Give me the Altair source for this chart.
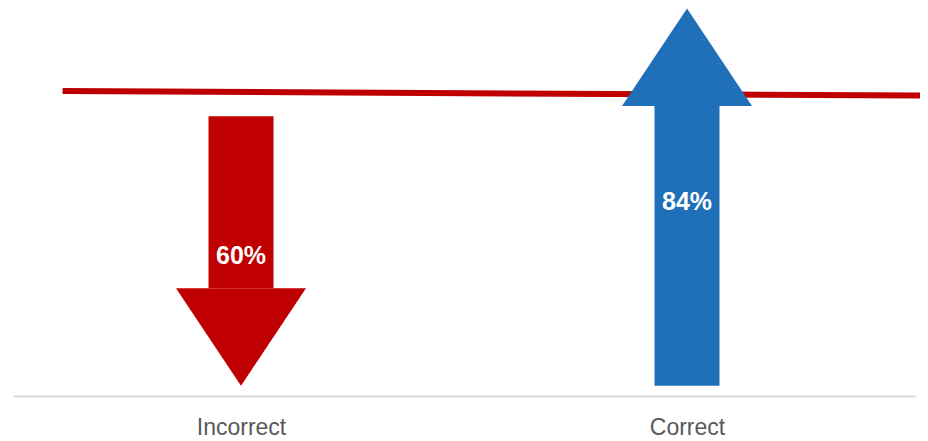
import json
import altair as alt
import pandas as pd

# ---- data ----
categories = ["Incorrect", "Correct"]
positions = [0, 1]
values = [60, 84]
directions = ["down", "up"]
colors = ["#c00000", "#1f70b8"]
value_labels = ["60%", "84%"]

ref_x = [-0.40, 1.53]
ref_y = [65.6, 64.6]

HEAD_LEN = 21.7  # arrow head length in value units

rows = []
for c, p, v, d, col, lab in zip(categories, positions, values, directions, colors, value_labels):
    if d == "down":
        lo, hi, tip = HEAD_LEN, v, 0
    else:
        lo, hi, tip = 0, v - HEAD_LEN, v
    rows.append(dict(category=c, pos=p, value=v, direction=d, color=col,
                     label=lab, shaft_lo=lo, shaft_hi=hi, tip=tip, mid=v / 2))
df = pd.DataFrame(rows)
ref_df = pd.DataFrame({"x": [ref_x[0]], "x2": [ref_x[1]], "y": [ref_y[0]], "y2": [ref_y[1]]})

xscale = alt.Scale(domain=[-0.5, 1.5], nice=False, zero=False)
yscale = alt.Scale(domain=[-2.3, 84.1], nice=False, zero=False)

label_expr = json.dumps(categories) + "[datum.value]"

xaxis = alt.Axis(values=positions, labelExpr=label_expr, ticks=False, grid=False,
                 title=None, domainColor="#d9d9d9", domainWidth=2,
                 labelFontSize=23, labelColor="#595959", labelPadding=20,
                 labelFont="Liberation Sans")

ref_line = alt.Chart(ref_df).mark_rule(color="#c00000", strokeWidth=6, clip=False).encode(
    x=alt.X("x:Q", scale=xscale, axis=xaxis),
    x2="x2:Q",
    y=alt.Y("y:Q", scale=yscale, axis=None),
    y2="y2:Q",
)

base = alt.Chart(df)

shaft = base.mark_bar(size=65).encode(
    x=alt.X("pos:Q", scale=xscale, axis=xaxis),
    y=alt.Y("shaft_lo:Q", scale=yscale, axis=None),
    y2="shaft_hi:Q",
    color=alt.Color("color:N", scale=None),
)

head_down = base.transform_filter(alt.datum.direction == "down").mark_point(
    shape="M-1,-1.5L1,-1.5L0,0Z", filled=True, size=16900, opacity=1, strokeWidth=0
).encode(
    x=alt.X("pos:Q", scale=xscale, axis=xaxis),
    y=alt.Y("tip:Q", scale=yscale, axis=None),
    color=alt.Color("color:N", scale=None),
)

head_up = base.transform_filter(alt.datum.direction == "up").mark_point(
    shape="M-1,1.5L1,1.5L0,0Z", filled=True, size=16900, opacity=1, strokeWidth=0
).encode(
    x=alt.X("pos:Q", scale=xscale, axis=xaxis),
    y=alt.Y("tip:Q", scale=yscale, axis=None),
    color=alt.Color("color:N", scale=None),
)

text = base.mark_text(color="white", fontWeight="bold", fontSize=25,
                      font="Liberation Sans", baseline="middle", align="center", dy=5).encode(
    x=alt.X("pos:Q", scale=xscale, axis=xaxis),
    y=alt.Y("mid:Q", scale=yscale, axis=None),
    text="label:N",
)

chart = alt.layer(ref_line, shaft, head_down, head_up, text).properties(
    width=902, height=388,
    autosize=alt.AutoSizeParams(type="none"),
    padding={"left": 5, "top": 0, "right": 5, "bottom": 45},
).configure_view(strokeWidth=0)

chart.save("out.html", embed_options={"renderer": "svg", "actions": False})
